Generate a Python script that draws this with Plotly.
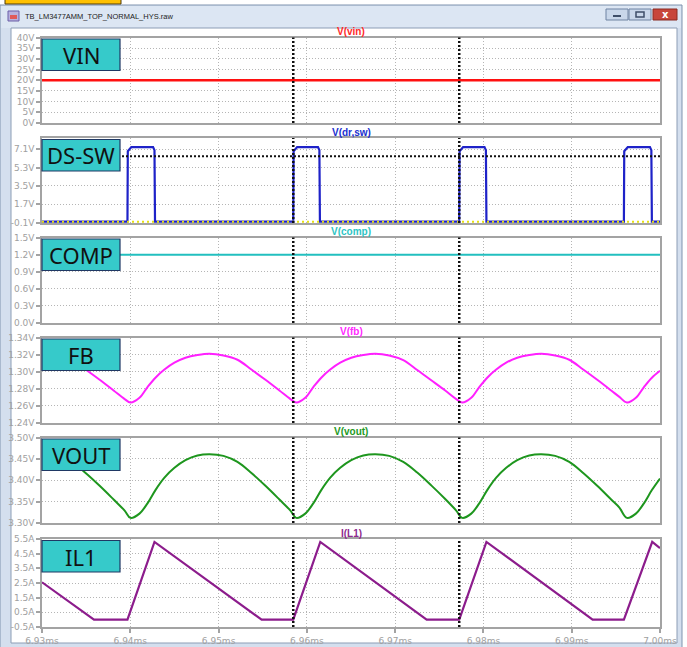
import plotly.graph_objects as go

W, H = 687, 647

# ---------------- data ----------------
time_ticks = [6.93, 6.94, 6.95, 6.96, 6.97, 6.98, 6.99, 7.00]
time_tick_labels = ["6.93ms", "6.94ms", "6.95ms", "6.96ms", "6.97ms", "6.98ms", "6.99ms", "7.00ms"]

vin_t = [6.93, 7.00]
vin_v = [20.0, 20.0]
vin_ticks = [0, 5, 10, 15, 20, 25, 30, 35, 40]
vin_tick_labels = ["0V", "5V", "10V", "15V", "20V", "25V", "30V", "35V", "40V"]

ds_t = [6.93000,
        6.93968, 6.93972, 6.94000, 6.94012, 6.94258, 6.94274, 6.94280,
        6.95846, 6.95850, 6.95878, 6.95890, 6.96126, 6.96142, 6.96148,
        6.97726, 6.97730, 6.97758, 6.97770, 6.98012, 6.98028, 6.98034,
        6.99591, 6.99595, 6.99623, 6.99635, 6.99886, 6.99902, 6.99908,
        7.00000]
ds_v = [0.0,
        0.0, 6.9, 7.25, 7.3, 7.3, 7.0, 0.0,
        0.0, 6.9, 7.25, 7.3, 7.3, 7.0, 0.0,
        0.0, 6.9, 7.25, 7.3, 7.3, 7.0, 0.0,
        0.0, 6.9, 7.25, 7.3, 7.3, 7.0, 0.0,
        0.0]
ds_aux_t = [6.93, 7.00]
ds_aux_v = [0.0, 0.0]
ds_ticks = [-0.1, 1.7, 3.5, 5.3, 7.1]
ds_tick_labels = ["-0.1V", "1.7V", "3.5V", "5.3V", "7.1V"]
ds_cursor_level = 6.4

comp_t = [6.93000, 6.93968, 6.93990, 6.94280, 6.94310,
          6.95846, 6.95868, 6.96148, 6.96178,
          6.97726, 6.97748, 6.98034, 6.98064,
          6.99591, 6.99613, 6.99908, 6.99938, 7.00000]
comp_v = [1.197, 1.197, 1.204, 1.204, 1.197,
          1.197, 1.204, 1.204, 1.197,
          1.197, 1.204, 1.204, 1.197,
          1.197, 1.204, 1.204, 1.197, 1.197]
comp_ticks = [0.0, 0.3, 0.6, 0.9, 1.2, 1.5]
comp_tick_labels = ["0.0V", "0.3V", "0.6V", "0.9V", "1.2V", "1.5V"]

wave_t = [6.93000, 6.93177, 6.93336, 6.93494, 6.93653, 6.93811, 6.93936,
          6.94002, 6.94104, 6.94195, 6.94285, 6.94387, 6.94500, 6.94625, 6.94761,
          6.94897, 6.95055, 6.95214, 6.95372, 6.95531, 6.95689, 6.95814,
          6.95880, 6.95982, 6.96073, 6.96163, 6.96265, 6.96378, 6.96503, 6.96639,
          6.96775, 6.96933, 6.97092, 6.97250, 6.97409, 6.97567, 6.97692,
          6.97760, 6.97862, 6.97953, 6.98043, 6.98145, 6.98258, 6.98383, 6.98519,
          6.98655, 6.98813, 6.98972, 6.99130, 6.99289, 6.99447, 6.99540,
          6.99625, 6.99727, 6.99818, 6.99908, 7.00000]

fb_v = [1.3210, 1.3190, 1.3140, 1.3025, 1.2905, 1.2780, 1.2680,
        1.2640, 1.2695, 1.2820, 1.2930, 1.3025, 1.3105, 1.3163, 1.3195,
        1.3210, 1.3190, 1.3140, 1.3025, 1.2905, 1.2780, 1.2680,
        1.2640, 1.2695, 1.2820, 1.2930, 1.3025, 1.3105, 1.3163, 1.3195,
        1.3210, 1.3190, 1.3135, 1.3020, 1.2900, 1.2780, 1.2680,
        1.2640, 1.2695, 1.2820, 1.2930, 1.3025, 1.3105, 1.3163, 1.3195,
        1.3210, 1.3190, 1.3140, 1.3025, 1.2905, 1.2780, 1.2705,
        1.2640, 1.2695, 1.2820, 1.2930, 1.3010]
fb_ticks = [1.24, 1.26, 1.28, 1.30, 1.32, 1.34]
fb_tick_labels = ["1.24V", "1.26V", "1.28V", "1.30V", "1.32V", "1.34V"]

vout_v = [3.461, 3.457, 3.443, 3.417, 3.387, 3.355, 3.329,
          3.312, 3.322, 3.346, 3.377, 3.406, 3.429, 3.447, 3.458,
          3.461, 3.457, 3.443, 3.417, 3.387, 3.355, 3.329,
          3.312, 3.322, 3.346, 3.377, 3.406, 3.429, 3.447, 3.458,
          3.461, 3.457, 3.443, 3.418, 3.388, 3.356, 3.329,
          3.312, 3.322, 3.346, 3.377, 3.406, 3.429, 3.447, 3.458,
          3.461, 3.457, 3.443, 3.417, 3.387, 3.355, 3.336,
          3.312, 3.322, 3.346, 3.377, 3.404]
vout_ticks = [3.30, 3.35, 3.40, 3.45, 3.50]
vout_tick_labels = ["3.30V", "3.35V", "3.40V", "3.45V", "3.50V"]

il_t = [6.93000, 6.93589, 6.93968, 6.94274, 6.95488, 6.95846, 6.96152,
        6.97357, 6.97726, 6.98034, 6.99237, 6.99591, 6.99912, 7.00000]
il_v = [2.55, 0.0, 0.0, 5.3, 0.0, 0.0, 5.3, 0.0, 0.0, 5.3, 0.0, 0.0, 5.3, 4.88]
il_ticks = [-0.5, 0.5, 1.5, 2.5, 3.5, 4.5, 5.5]
il_tick_labels = ["-0.5A", "0.5A", "1.5A", "2.5A", "3.5A", "4.5A", "5.5A"]

cursor_times = [6.95846, 6.97726]

# ---------------- layout helpers ----------------
PX_L, PX_R = 42, 660
GREY = "#A3A3A3"
GRID = "#B5B5B5"
TICKFONT = dict(family="DejaVu Sans", size=9, color="#A0A0A0")


def py(v):
    return 1 - v / H


def px(v):
    return v / W


def rect(x0, y0, x1, y1, **kw):
    return dict(type="rect", xref="paper", yref="paper",
                x0=px(x0), x1=px(x1), y0=py(y1), y1=py(y0), **kw)


panels = [
    dict(title="V(vin)", tcol="#FF2A2A", label="VIN", top=37.5, bot=123, rng=[0, 40],
         tv=vin_ticks, tt=vin_tick_labels,
         traces=[(vin_t, vin_v, "#FF1010", 2.5, "linear", None)]),
    dict(title="V(dr,sw)", tcol="#2030D0", label="DS-SW", top=138, bot=223, rng=[-0.13, 8.19],
         tv=ds_ticks, tt=ds_tick_labels,
         traces=[(ds_t, ds_v, "#1E22C8", 2.2, "linear", None),
                 (ds_aux_t, ds_aux_v, "#E6E010", 2, "linear", "2px,3px")]),
    dict(title="V(comp)", tcol="#2EC4C4", label="COMP", top=237.5, bot=323, rng=[0, 1.5],
         tv=comp_ticks, tt=comp_tick_labels,
         traces=[(comp_t, comp_v, "#22BFBF", 2, "linear", None)]),
    dict(title="V(fb)", tcol="#FF2AFF", label="FB", top=337.5, bot=423, rng=[1.24, 1.34],
         tv=fb_ticks, tt=fb_tick_labels,
         traces=[(wave_t, fb_v, "#FF20FF", 2, "spline", None)]),
    dict(title="V(vout)", tcol="#1E9A1E", label="VOUT", top=437.5, bot=523, rng=[3.30, 3.50],
         tv=vout_ticks, tt=vout_tick_labels,
         traces=[(wave_t, vout_v, "#1E961E", 2, "spline", None)]),
    dict(title="I(L1)", tcol="#8E2A8E", label="IL1", top=539, bot=627, rng=[-0.5, 5.5],
         tv=il_ticks, tt=il_tick_labels,
         traces=[(il_t, il_v, "#8C1C8C", 2.2, "linear", None)]),
]

fig = go.Figure()
layout = dict(width=W, height=H, autosize=False, margin=dict(l=0, r=0, t=0, b=0, pad=0),
              paper_bgcolor="white", plot_bgcolor="rgba(0,0,0,0)", showlegend=False)
shapes = []
annotations = []

# ---------- window chrome (below) ----------
shapes.append(rect(0, 5, 682, 648, fillcolor="#D4DFEE", line=dict(color="#7F93AE", width=1), layer="below"))
shapes.append(rect(1, 6, 681, 28, fillcolor="#DCE6F3", line=dict(width=0), layer="below"))
shapes.append(rect(11, 28, 677, 643, fillcolor="white", line=dict(color="#8C9DB5", width=1), layer="below"))
shapes.append(rect(5, -2, 121, 4, fillcolor="#FFC000", line=dict(color="#4A3A10", width=1), layer="below"))
# icon
shapes.append(rect(8, 11, 19, 21, fillcolor="#B7B1DE", line=dict(color="#6A5FA8", width=1), layer="below"))
shapes.append(rect(10, 15, 17, 19, fillcolor="#E05A5A", line=dict(width=0), layer="below"))
# buttons
shapes.append(rect(606, 9, 628, 20, fillcolor="#C9D7EA", line=dict(color="#6F83A2", width=1), layer="below"))
shapes.append(rect(629, 9, 651, 20, fillcolor="#C9D7EA", line=dict(color="#6F83A2", width=1), layer="below"))
shapes.append(rect(653, 9, 677, 20, fillcolor="#C8463B", line=dict(color="#8A2A22", width=1), layer="below"))
shapes.append(rect(613, 15, 621, 17, fillcolor="#3E4E68", line=dict(width=0), layer="below"))
shapes.append(rect(636, 12, 644, 17, fillcolor="rgba(0,0,0,0)", line=dict(color="#3E4E68", width=1.5), layer="below"))
annotations.append(dict(x=px(665), y=py(14.5), xref="paper", yref="paper", text="<b>x</b>",
                        showarrow=False, font=dict(family="DejaVu Sans", size=10, color="white"),
                        xanchor="center", yanchor="middle"))
annotations.append(dict(x=px(23), y=py(16), xref="paper", yref="paper",
                        text="TB_LM3477AMM_TOP_NORMAL_HYS.raw", showarrow=False,
                        font=dict(family="Liberation Sans", size=7.5, color="#222222"),
                        xanchor="left", yanchor="middle"))

# horizontal cursor in the DS-SW pane (drawn before the label boxes so the box covers it)
shapes.append(dict(type="line", xref="x2 domain", yref="y2", x0=0, x1=1,
                   y0=ds_cursor_level, y1=ds_cursor_level,
                   line=dict(color="#111111", width=2, dash="2px,2px")))

box_shapes = []
for i, p in enumerate(panels, start=1):
    sfx = "" if i == 1 else str(i)
    xd = [px(PX_L), px(PX_R)]
    yd = [py(p["bot"]), py(p["top"])]
    last = (i == len(panels))
    layout["xaxis" + sfx] = dict(
        domain=xd, range=[6.93, 7.00], anchor="y" + sfx,
        showline=True, mirror=True, linecolor=GREY, linewidth=1.5,
        showgrid=True, gridcolor=GRID, gridwidth=1, griddash="1px,2px",
        tickvals=time_ticks, ticktext=time_tick_labels,
        showticklabels=last, ticks="outside" if last else "",
        ticklen=4, tickwidth=1.5, tickcolor=GREY, tickfont=TICKFONT,
        zeroline=False, fixedrange=True, automargin=False)
    layout["yaxis" + sfx] = dict(
        domain=yd, range=p["rng"], anchor="x" + sfx,
        showline=True, mirror=True, linecolor=GREY, linewidth=1.5,
        showgrid=True, gridcolor=GRID, gridwidth=1, griddash="1px,2px",
        tickvals=p["tv"], ticktext=p["tt"], ticks="outside",
        ticklen=4, tickwidth=1.5, tickcolor=GREY, tickfont=TICKFONT,
        zeroline=False, fixedrange=True, automargin=False)
    for (tx, vy, col, wd, shp, dash) in p["traces"]:
        ln = dict(color=col, width=wd, shape=shp)
        if shp == "spline":
            ln["smoothing"] = 1.0
        if dash:
            ln["dash"] = dash
        fig.add_trace(go.Scatter(x=tx, y=vy, mode="lines", line=ln,
                                 xaxis="x" + sfx, yaxis="y" + sfx, hoverinfo="skip"))
    # cursors
    for ct in cursor_times:
        shapes.append(dict(type="line", xref="x" + sfx, yref="y" + sfx + " domain",
                           x0=ct, x1=ct, y0=0, y1=1,
                           line=dict(color="#111111", width=2.5, dash="2px,2px")))
    # trace title
    annotations.append(dict(x=(xd[0] + xd[1]) / 2, y=py(p["top"] - 6), xref="paper", yref="paper",
                            text="<b>%s</b>" % p["title"], showarrow=False,
                            font=dict(family="Liberation Sans", size=10, color=p["tcol"]),
                            xanchor="center", yanchor="middle"))
    # label box
    bt = p["top"] + 1.5
    box_shapes.append(rect(42, bt, 120, bt + 31.5, fillcolor="#36CACA",
                           line=dict(color="#1F3864", width=1.2), layer="above"))
    annotations.append(dict(x=px(81), y=py(bt + 16), xref="paper", yref="paper",
                            text=p["label"], showarrow=False,
                            font=dict(family="Noto Sans", size=22, color="#111111"),
                            xanchor="center", yanchor="middle"))

layout["shapes"] = shapes + box_shapes
layout["annotations"] = annotations
fig.update_layout(**layout)

fix_page = ("document.documentElement.style.margin='0';"
            "document.documentElement.style.overflow='hidden';"
            "document.body.style.margin='0';"
            "document.body.style.padding='0';"
            "document.body.style.overflow='hidden';")
fig.write_html("out.html", config={"responsive": False, "displayModeBar": False},
               post_script=fix_page)
